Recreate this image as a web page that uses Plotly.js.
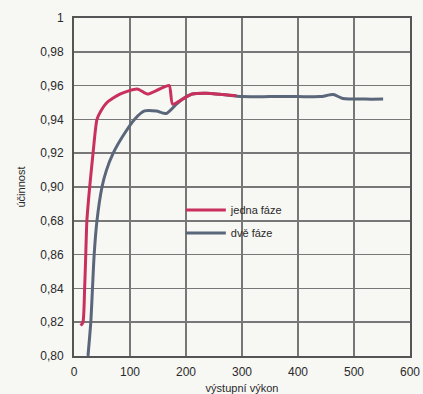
<!DOCTYPE html>
<html><head><meta charset="utf-8">
<script src="https://cdn.plot.ly/plotly-3.0.1.min.js"></script>
<style>html,body{margin:0;padding:0;background:#f7f7f4;}#c{width:423px;height:394px;}</style>
</head><body><div id="c"></div>
<script>
const seriesNames = ["jedna fáze", "dvě fáze"];
const redX = [12, 16, 19, 21, 23, 28, 34, 41, 48, 59, 82, 113, 131, 153, 170, 176, 194, 211, 236, 265, 290];
const redY = [0.818, 0.82, 0.84, 0.86, 0.88, 0.90, 0.92, 0.94, 0.945, 0.95, 0.955, 0.958, 0.955, 0.958, 0.96, 0.949, 0.952, 0.955, 0.9555, 0.9547, 0.954];
const blueX = [25, 30, 33, 36, 41, 50, 58, 70, 87, 108, 126, 147, 165, 183, 194, 211, 236, 265, 300, 350, 400, 440, 463, 480, 520, 552];
const blueY = [0.80, 0.82, 0.84, 0.86, 0.88, 0.90, 0.91, 0.92, 0.93, 0.94, 0.945, 0.945, 0.9435, 0.949, 0.952, 0.955, 0.9555, 0.9547, 0.9535, 0.9535, 0.9535, 0.9535, 0.9547, 0.9524, 0.952, 0.952];
const yTickVals = [0.80, 0.82, 0.84, 0.86, 0.88, 0.90, 0.92, 0.94, 0.96, 0.98, 1];
const yTickText = ["0,80", "0,82", "0,84", "0,86", "0,68", "0,90", "0,92", "0,94", "0,96", "0,98", "1"];
const xTickVals = [0, 100, 200, 300, 400, 500, 600];

const fam = "Liberation Sans, Arial, sans-serif";
const tickFont = {family: fam, size: 12, color: "#2a2a2a"};
const titleFont = {family: fam, size: 11, color: "#2a2a2a"};
const traces = [
  {x: blueX, y: blueY, name: seriesNames[1], mode: "lines", line: {color: "#5a6679", width: 3, shape: "spline", smoothing: 0.6}, legendgroup: "b", legendrank: 2},
  {x: redX, y: redY, name: seriesNames[0], mode: "lines", line: {color: "#c9305c", width: 3, shape: "spline", smoothing: 0.6}, legendgroup: "a", legendrank: 1}
];
const layout = {
  width: 423, height: 394,
  margin: {l: 74, r: 11, t: 16, b: 38},
  paper_bgcolor: "#f7f7f4", plot_bgcolor: "#f7f7f4",
  font: titleFont,
  showlegend: true,
  legend: {x: 0.318, y: 0.475, xanchor: "left", yanchor: "top", bgcolor: "rgba(0,0,0,0)", font: {family: fam, size: 11, color: "#2a2a2a"}, traceorder: "grouped", tracegroupgap: 4, itemwidth: 40},
  xaxis: {range: [0, 600], tickvals: xTickVals, ticks: "", tickfont: tickFont, ticklabelstandoff: 4, showgrid: true, gridcolor: "#777", gridwidth: 1.5, showline: true, linecolor: "#555", linewidth: 2, mirror: true, zeroline: false, fixedrange: true, automargin: false,
    title: {text: "výstupní výkon", font: titleFont}},
  yaxis: {range: [0.80, 1], tickvals: yTickVals, ticktext: yTickText, ticks: "", tickfont: tickFont, ticklabelstandoff: 6, showgrid: true, gridcolor: "#777", gridwidth: 1.5, showline: true, linecolor: "#555", linewidth: 2, mirror: true, zeroline: false, fixedrange: true, automargin: true,
    title: {text: "účinnost", font: titleFont, standoff: 12}}
};
Plotly.newPlot("c", traces, layout, {staticPlot: true, displayModeBar: false});
</script></body></html>
